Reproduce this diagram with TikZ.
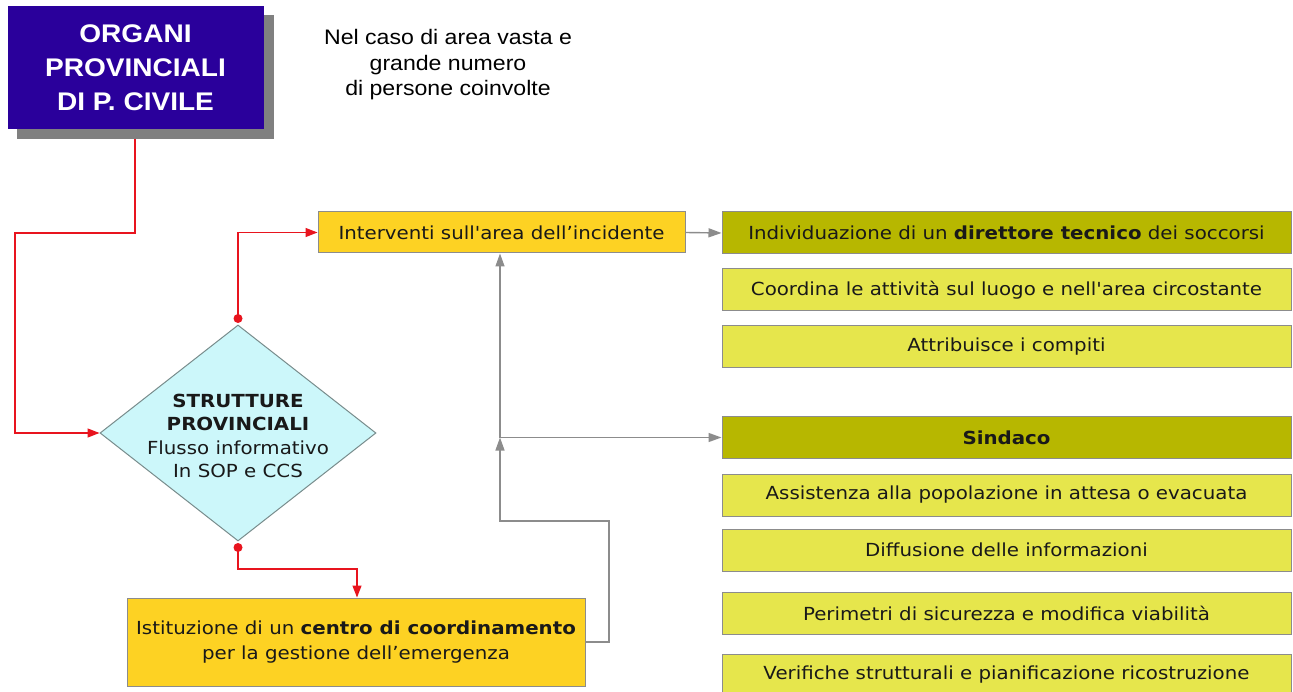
\documentclass[tikz,border=0pt]{standalone}
\usepackage{fontspec}
\setmainfont{DejaVu Sans}[FakeStretch=1.1,Ligatures=TeXOff]
\newfontfamily\arialfont{Liberation Sans}[FakeStretch=1.1,Ligatures=TeXOff]
\usetikzlibrary{shapes.geometric,arrows.meta,calc}
\definecolor{titleblue}{RGB}{42,0,155}
\definecolor{shadowgray}{RGB}{128,128,128}
\definecolor{boxyellow}{RGB}{253,210,35}
\definecolor{darkolive}{RGB}{183,183,0}
\definecolor{lightolive}{RGB}{230,230,76}
\definecolor{diacyan}{RGB}{204,247,250}
\definecolor{bordergray}{RGB}{140,140,140}
\definecolor{diaborder}{RGB}{120,140,140}
\definecolor{linered}{RGB}{232,20,30}
\definecolor{linegray}{RGB}{140,140,140}
\definecolor{textdark}{RGB}{25,25,25}
\begin{document}
\begin{tikzpicture}[x=1pt,y=-1pt,
  font=\fontsize{18}{23}\selectfont,
  box/.style={draw=bordergray, line width=1pt, inner sep=0pt, minimum height=42pt, text=textdark},
  widebox/.style={box, minimum width=569pt},
  darkbox/.style={widebox, fill=darkolive},
  lightbox/.style={widebox, fill=lightolive},
  redline/.style={draw=linered, line width=1.3pt},
  redarrow/.style={redline, -{Triangle[length=12pt,width=9pt]}},
  grayline/.style={draw=linegray, line width=1.4pt},
  grayarrow/.style={grayline, -{Triangle[length=13pt,width=9pt]}},
  reddot/.style={circle, fill=linered, inner sep=0pt, minimum size=9pt}
]
\useasboundingbox[fill=white] (0,0) rectangle (1293,692);

% title box with shadow
\node[fill=shadowgray, minimum width=257pt, minimum height=124pt, inner sep=0pt] (shadow) at (145.5,77) {};
\node[fill=titleblue, minimum width=256pt, minimum height=123pt, inner sep=0pt, text=white, align=center,
      font=\arialfont\bfseries\fontsize{25.5}{34}\selectfont] (organi) at (135.5,68) {ORGANI\\PROVINCIALI\\DI P. CIVILE};

\node[align=center, font=\arialfont\fontsize{21}{25.5}\selectfont, text=black] (note) at (448,65)
  {Nel caso di area vasta e\\grande numero\\di persone coinvolte};

% diamond
\node[diamond, draw=diaborder, line width=1pt, fill=diacyan, aspect=1.28, minimum width=276pt, minimum height=216pt, inner sep=0pt] (d) at (238,433) {};
\node[align=center, text=textdark, font=\fontsize{18}{23.5}\selectfont] (dtext) at (238,436)
  {\textbf{STRUTTURE}\\\textbf{PROVINCIALI}\\Flusso informativo\\In SOP e CCS};

% yellow boxes
\node[box, fill=boxyellow, minimum width=367pt, minimum height=41pt] (inter) at (501.5,232.5) {Interventi sull'area dell’incidente};
\node[box, fill=boxyellow, minimum width=458pt, minimum height=88pt, align=center, font=\fontsize{18}{25}\selectfont] (ist) at (356,642)
  {Istituzione di un \textbf{centro di coordinamento}\\per la gestione dell’emergenza};

% right column
\node[darkbox] (b1) at (1006.5,233) {Individuazione di un \textbf{direttore tecnico} dei soccorsi};
\node[lightbox] (b2) at (1006.5,290) {Coordina le attività sul luogo e nell'area circostante};
\node[lightbox] (b3) at (1006.5,347) {Attribuisce i compiti};
\node[darkbox] (sind) at (1006.5,437.5) {\textbf{Sindaco}};
\node[lightbox] (b5) at (1006.5,495) {Assistenza alla popolazione in attesa o evacuata};
\node[lightbox] (b6) at (1006.5,550) {Diffusione delle informazioni};
\node[lightbox] (b7) at (1006.5,613) {Perimetri di sicurezza e modifica viabilità};
\node[lightbox] (b8) at (1006.5,675) {Verifiche strutturali e pianificazione ricostruzione};

% coordinates
\coordinate (k0) at (135,139);
\coordinate (k1) at (15,233);
\coordinate (dtop) at ($(d.north)+(0,-6)$);
\coordinate (dbot) at ($(d.south)+(0,6)$);
\coordinate (k2) at (357,569);
\coordinate (g1) at (609,521);
\coordinate (g2) at (500,521);
\coordinate (j) at (500,437.5);

% red connectors
\draw[redarrow] (k0) -- (k0 |- k1) -- (k1) -- (k1 |- d.west) -- (d.west);
\draw[redarrow] (dtop) -- (dtop |- inter.west) -- (inter.west);
\draw[redarrow] (dbot) -- (dbot |- k2) -- (k2) -- (k2 |- ist.north);
\node[reddot] (dot1) at (dtop) {};
\node[reddot] (dot2) at (dbot) {};

% gray connectors
\draw[grayarrow] (inter.east) -- (b1.west);
\draw[grayarrow] (ist.east) -| (g1) -- (g2) -- (j);
\draw[grayarrow] (j) -- (j |- inter.south);
\draw[grayarrow] (j) -- (sind.west);
\end{tikzpicture}
\end{document}
